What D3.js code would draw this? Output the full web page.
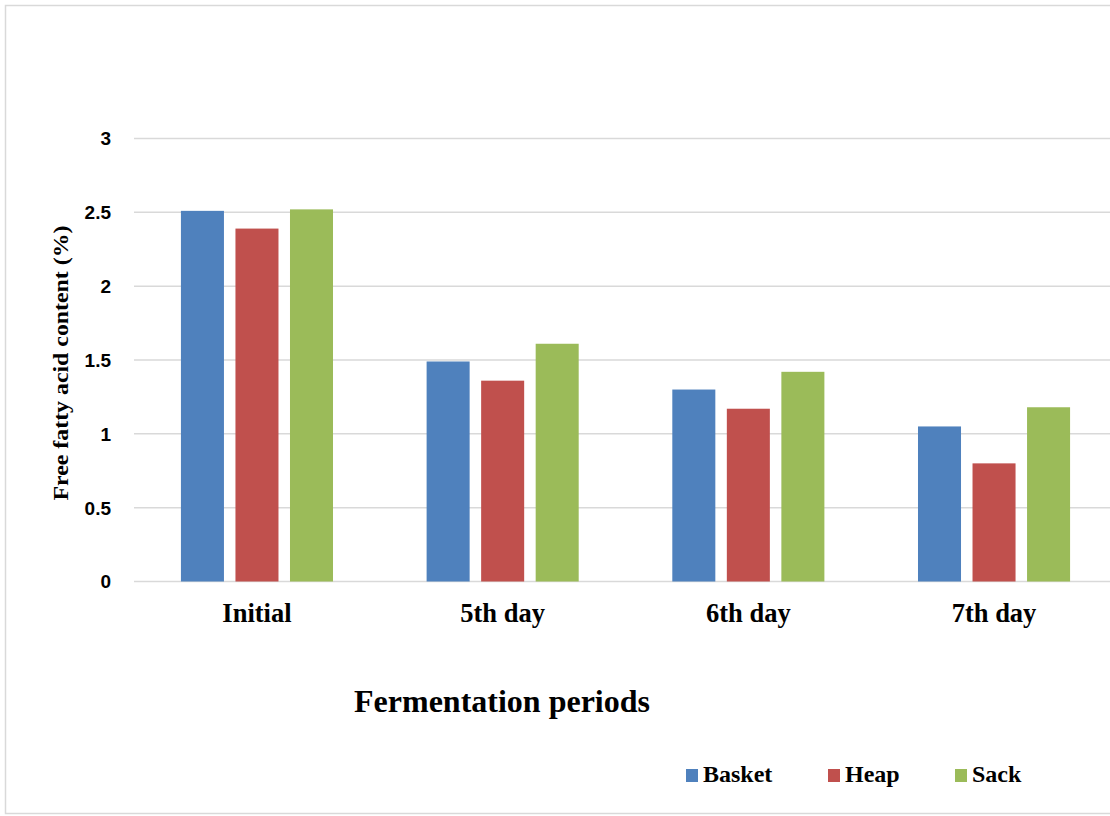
<!DOCTYPE html>
<html>
<head>
<meta charset="utf-8">
<script src="https://cdn.jsdelivr.net/npm/d3@7"></script>
<style>
  html, body { margin: 0; padding: 0; background: #fff; }
  svg { display: block; }
</style>
</head>
<body>
<div id="chart"></div>
<script>
// Free fatty acid content by fermentation period and method
const categories = ["Initial", "5th day", "6th day", "7th day"];
const seriesNames = ["Basket", "Heap", "Sack"];
const basket = [2.51, 1.49, 1.30, 1.05];
const heap   = [2.39, 1.36, 1.17, 0.80];
const sack   = [2.52, 1.61, 1.42, 1.18];
const yTicks = [0, 0.5, 1, 1.5, 2, 2.5, 3];
const yTickLabels = ["0", "0.5", "1", "1.5", "2", "2.5", "3"];
const colors = ["#4f81bd", "#c0504d", "#9bbb59"];

const values = [basket, heap, sack];
const rows = categories.map((c, i) => ({
  category: c,
  items: seriesNames.map((s, j) => ({ series: s, value: values[j][i] }))
}));

const W = 1110, H = 816;
const plot = { left: 134, right: 1117, top: 138.5, bottom: 581.5 };
const serif = "'Liberation Serif', 'Times New Roman', serif";

const svg = d3.select("#chart").append("svg")
  .attr("width", W).attr("height", H);

// outer frame
svg.append("rect")
  .attr("x", 5.5).attr("y", 5.5)
  .attr("width", W + 10).attr("height", H - 8)
  .attr("fill", "#fff").attr("stroke", "#d9d9d9").attr("stroke-width", 1.5);

const y = d3.scaleLinear().domain([0, 3]).range([plot.bottom, plot.top]);
const x0 = d3.scaleBand().domain(categories).range([plot.left, plot.right])
  .paddingInner(0.381).paddingOuter(0.191);
const x1 = d3.scaleBand().domain(seriesNames).range([0, x0.bandwidth()]).paddingInner(0.211);

// gridlines
svg.append("g")
  .selectAll("line").data(yTicks).join("line")
  .attr("x1", plot.left).attr("x2", 1112)
  .attr("y1", d => y(d)).attr("y2", d => y(d))
  .attr("stroke", "#d9d9d9").attr("stroke-width", 1.5);

// y tick labels
svg.append("g")
  .selectAll("text").data(yTicks).join("text")
  .attr("x", 111).attr("y", d => y(d))
  .attr("dy", "0.36em")
  .attr("text-anchor", "end")
  .attr("font-family", "'Liberation Sans', Arial, sans-serif")
  .attr("font-weight", "bold").attr("font-size", 19)
  .text((d, i) => yTickLabels[i]);

// bars
const groups = svg.append("g").selectAll("g").data(rows).join("g")
  .attr("transform", d => `translate(${x0(d.category)},0)`);
groups.selectAll("rect").data(d => d.items).join("rect")
  .attr("x", d => x1(d.series))
  .attr("y", d => y(d.value))
  .attr("width", x1.bandwidth())
  .attr("height", d => y(0) - y(d.value))
  .attr("fill", (d, i) => colors[i]);

// x category labels
svg.append("g")
  .selectAll("text").data(categories).join("text")
  .attr("x", d => x0(d) + x0.bandwidth() / 2)
  .attr("y", 622)
  .attr("text-anchor", "middle")
  .attr("font-family", serif)
  .attr("font-weight", "bold").attr("font-size", 26.5)
  .text(d => d);

// axis titles
svg.append("text")
  .attr("x", 502).attr("y", 712)
  .attr("text-anchor", "middle")
  .attr("font-family", serif)
  .attr("font-weight", "bold").attr("font-size", 32)
  .text("Fermentation periods");

svg.append("text")
  .attr("transform", "translate(68,363) rotate(-90)")
  .attr("text-anchor", "middle")
  .attr("font-family", serif)
  .attr("font-weight", "bold").attr("font-size", 20)
  .attr("textLength", 275).attr("lengthAdjust", "spacingAndGlyphs")
  .text("Free fatty acid content (%)");

// legend
const legendX = [686, 828, 955];
const legend = svg.append("g").selectAll("g").data(seriesNames).join("g")
  .attr("transform", (d, i) => `translate(${legendX[i]},0)`);
legend.append("rect")
  .attr("x", 0).attr("y", 769).attr("width", 12).attr("height", 13)
  .attr("fill", (d, i) => colors[i]);
legend.append("text")
  .attr("x", 17).attr("y", 782)
  .attr("font-family", serif)
  .attr("font-weight", "bold").attr("font-size", 24)
  .text(d => d);
</script>
</body>
</html>
